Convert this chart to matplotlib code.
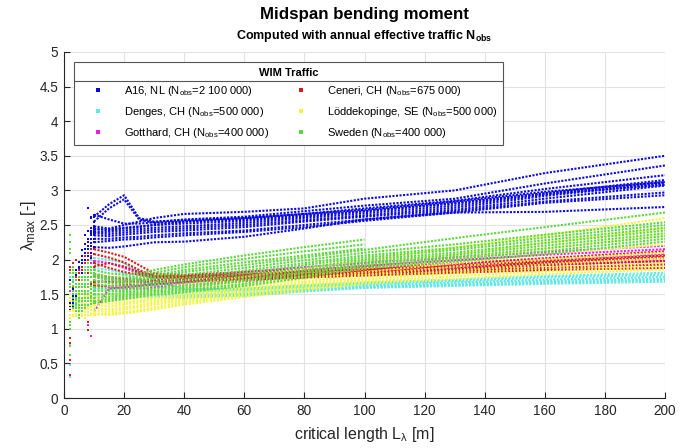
import matplotlib
matplotlib.use("Agg")
import matplotlib.pyplot as plt
import numpy as np
from matplotlib.lines import Line2D

plt.rcParams["font.family"] = ["Liberation Sans", "DejaVu Sans"]
plt.rcParams["mathtext.fontset"] = "custom"
plt.rcParams["mathtext.rm"] = "Liberation Sans"
plt.rcParams["mathtext.it"] = "Liberation Sans:italic"
plt.rcParams["mathtext.bf"] = "Liberation Sans:bold"
plt.rcParams["mathtext.default"] = "regular"

nan = np.nan

# critical lengths [m] at which lambda_max is given
lengths = [2, 3, 4, 5, 6, 7, 8, 9, 10, 15, 20, 25, 30, 40, 60, 80, 100, 130, 160, 200]

a16 = [
    [1.70, 1.68, 1.85, 1.96, 2.14, 2.35, 2.74, 2.62, 2.48, 2.45, 2.50, 2.55, 2.60, 2.66, 2.69, 2.74, 2.88, 3.00, 3.25, 3.50],
    [1.55, 1.62, 1.78, 1.90, 2.05, 2.22, 2.42, 2.60, 2.65, 2.58, 2.52, 2.52, 2.54, 2.58, 2.62, 2.70, 2.78, 2.88, 3.10, 3.36],
    [1.60, 1.58, 1.75, 1.88, 2.00, 2.15, 2.30, 2.45, 2.45, 2.42, 2.45, 2.47, 2.50, 2.55, 2.60, 2.66, 2.74, 2.85, 3.02, 3.22],
    [1.50, 1.55, 1.70, 1.85, 1.95, 2.10, 2.25, 2.42, 2.43, 2.44, 2.46, 2.48, 2.50, 2.52, 2.56, 2.62, 2.70, 2.82, 2.96, 3.15],
    [1.45, 1.50, 1.65, 1.80, 1.90, 2.05, 2.20, 2.38, 2.40, 2.40, 2.42, 2.44, 2.46, 2.48, 2.53, 2.60, 2.67, 2.78, 2.94, 3.12],
    [1.40, 1.48, 1.60, 1.75, 1.85, 2.00, 2.15, 2.35, 2.38, 2.37, 2.39, 2.41, 2.43, 2.45, 2.50, 2.57, 2.64, 2.75, 2.92, 3.10],
    [1.38, 1.45, 1.55, 1.70, 1.80, 1.95, 2.10, 2.30, 2.35, 2.34, 2.36, 2.38, 2.40, 2.42, 2.47, 2.55, 2.62, 2.72, 2.88, 3.07],
    [1.35, 1.42, 1.50, 1.65, 1.75, 1.90, 2.05, 2.24, 2.30, 2.30, 2.32, 2.33, 2.35, 2.38, 2.42, 2.50, 2.58, 2.70, 2.84, 2.97],
    [1.32, 1.40, 1.48, 1.60, 1.70, 1.85, 2.00, 2.20, 2.25, 2.27, 2.29, 2.30, 2.32, 2.35, 2.40, 2.47, 2.56, 2.68, 2.82, 2.93],
    [1.30, 1.38, 1.45, 1.55, 1.65, 1.80, 1.95, 2.10, 2.18, 2.17, 2.19, 2.22, 2.25, 2.26, 2.33, 2.45, 2.58, 2.68, 2.69, 2.76],
    [1.28, 1.35, 1.42, 1.50, 1.60, 1.75, 1.90, 2.05, 2.62, 2.80, 2.93, 2.60, 2.55, 2.57, 2.60, 2.66, 2.72, 2.84, 2.98, 3.12],
    [1.25, 1.32, 1.40, 1.48, 1.55, 1.70, 1.85, 2.02, 2.55, 2.74, 2.87, 2.58, 2.53, 2.55, 2.58, 2.64, 2.70, 2.81, 2.95, 3.08],
]

denges = [
    [1.80, 1.70, 1.75, 1.80, 1.85, 1.90, 1.95, 2.00, 2.02, 2.00, 1.95, 1.82, 1.70, 1.57, 1.58, 1.63, 1.67, 1.71, 1.76, 1.81],
    [1.75, 1.55, 1.60, 1.65, 1.70, 1.75, 1.80, 1.85, 1.88, 1.85, 1.80, 1.72, 1.62, 1.54, 1.56, 1.61, 1.65, 1.69, 1.74, 1.78],
    [1.45, 1.45, 1.50, 1.55, 1.60, 1.62, 1.65, 1.68, 1.70, 1.68, 1.65, 1.60, 1.55, 1.51, 1.54, 1.59, 1.63, 1.67, 1.71, 1.75],
    [0.78, 1.40, 1.45, 1.48, 1.50, 1.52, 1.55, 1.57, 1.58, 1.56, 1.54, 1.52, 1.50, 1.48, 1.51, 1.56, 1.61, 1.65, 1.69, 1.72],
    [0.48, 1.35, 1.40, 1.42, 1.44, 1.46, 1.48, 1.50, 1.50, 1.48, 1.47, 1.46, 1.46, 1.45, 1.48, 1.54, 1.59, 1.62, 1.65, 1.68],
    [0.30, 1.28, 1.32, 1.38, 1.42, 1.44, 1.46, 1.48, 1.49, 1.50, 1.50, 1.49, 1.48, 1.47, 1.50, 1.55, 1.60, 1.63, 1.67, 1.70],
]

gotthard = [
    [1.55, 1.40, 1.50, 1.60, 1.70, 1.80, 1.90, 1.95, 1.98, 1.95, 1.88, 1.80, 1.75, 1.76, 1.82, 1.89, 1.95, 2.03, 2.11, 2.20],
    [1.50, 1.30, 1.35, 1.45, 1.55, 1.60, 1.70, 0.89, 1.75, 1.72, 1.70, 1.68, 1.68, 1.70, 1.76, 1.84, 1.91, 1.99, 2.07, 2.15],
    [1.45, 1.20, 1.25, 1.30, 1.35, 1.40, 1.05, 1.45, 1.25, 1.58, 1.60, 1.62, 1.64, 1.67, 1.73, 1.80, 1.86, 1.93, 2.00, 2.08],
    [1.35, 1.25, 1.30, 1.40, 1.50, 1.55, 1.60, 1.62, 1.65, 1.60, 1.58, 1.58, 1.60, 1.63, 1.69, 1.76, 1.82, 1.88, 1.93, 1.98],
]

ceneri = [
    [1.90, 1.95, 2.00, 1.85, 1.90, 2.05, 2.10, 2.15, 2.15, 2.10, 2.04, 1.92, 1.80, 1.78, 1.82, 1.86, 1.89, 1.94, 2.02, 2.12],
    [1.85, 1.60, 1.75, 1.80, 1.85, 1.95, 2.00, 2.05, 2.08, 2.03, 1.96, 1.85, 1.76, 1.76, 1.79, 1.83, 1.86, 1.91, 1.98, 2.06],
    [1.60, 1.50, 1.60, 1.70, 1.75, 1.80, 1.85, 1.90, 1.95, 1.88, 1.82, 1.78, 1.74, 1.74, 1.77, 1.81, 1.84, 1.89, 1.95, 2.02],
    [0.87, 1.40, 1.50, 1.60, 1.65, 1.70, 1.10, 1.75, 1.78, 1.75, 1.72, 1.71, 1.71, 1.72, 1.75, 1.79, 1.82, 1.86, 1.92, 1.98],
    [0.80, 1.30, 1.40, 1.50, 1.55, 1.60, 0.98, 1.65, 1.68, 1.68, 1.68, 1.68, 1.69, 1.70, 1.73, 1.77, 1.80, 1.84, 1.88, 1.93],
    [0.55, 1.25, 1.30, 1.45, 1.50, 1.55, 1.60, 1.62, 1.62, 1.62, 1.63, 1.64, 1.66, 1.68, 1.71, 1.74, 1.77, 1.81, 1.85, 1.88],
    [0.33, 1.45, 1.55, 1.65, 1.70, 1.75, 1.80, 1.85, 1.90, 1.95, 1.90, 1.82, 1.77, 1.75, 1.78, 1.82, 1.85, 1.90, 1.96, 2.04],
]

loddekopinge = [
    [1.40, 1.50, 1.55, 1.52, 1.50, 1.48, 1.52, 1.50, 1.50, 1.48, 1.50, 1.53, 1.57, 1.63, 1.75, 1.87, 1.99, 2.17, 2.35, 2.60],
    [1.35, 1.45, 1.50, 1.48, 1.45, 1.44, 1.48, 1.46, 1.45, 1.43, 1.45, 1.48, 1.52, 1.58, 1.70, 1.81, 1.92, 2.07, 2.24, 2.45],
    [1.45, 1.40, 1.45, 1.44, 1.42, 1.40, 1.44, 1.43, 1.42, 1.40, 1.42, 1.45, 1.48, 1.54, 1.65, 1.76, 1.87, 2.01, 2.16, 2.35],
    [1.30, 1.35, 1.40, 1.40, 1.38, 1.36, 1.40, 1.39, 1.38, 1.36, 1.38, 1.41, 1.44, 1.50, 1.61, 1.72, 1.82, 1.95, 2.08, 2.22],
    [1.25, 1.30, 1.35, 1.36, 1.34, 1.33, 1.36, 1.36, 1.35, 1.32, 1.35, 1.38, 1.41, 1.47, 1.58, 1.68, 1.78, 1.90, 2.00, 2.10],
    [1.20, 1.28, 1.30, 1.32, 1.30, 1.28, 1.32, 1.31, 1.30, 1.28, 1.31, 1.34, 1.38, 1.44, 1.55, 1.65, 1.74, 1.84, 1.93, 2.02],
    [1.15, 1.25, 1.26, 1.28, 1.26, 1.24, 1.28, 1.27, 1.25, 1.25, 1.28, 1.31, 1.35, 1.41, 1.52, 1.62, 1.71, 1.80, 1.88, 1.95],
    [1.10, 1.20, 1.22, 1.24, 1.22, 1.20, 1.24, 1.22, 1.20, 1.22, 1.24, 1.27, 1.31, 1.38, 1.49, 1.59, 1.68, 1.76, 1.83, 1.90],
    [1.50, 1.18, 1.18, 1.20, 1.18, 1.16, 1.20, 1.20, 1.22, 1.20, 1.22, 1.25, 1.28, 1.35, 1.46, 1.56, 1.65, 1.72, 1.79, 1.86],
]

sweden = [
    [2.35, 1.90, 1.80, 1.75, 1.70, 1.85, 1.95, 1.90, 1.85, 1.80, 1.78, 1.80, 1.85, 1.93, 2.06, 2.18, 2.29, nan, nan, nan],
    [2.25, 1.85, 1.70, 1.65, 1.75, 1.80, 1.90, 1.85, 1.80, 1.75, 1.74, 1.76, 1.81, 1.89, 2.01, 2.12, 2.22, nan, nan, nan],
    [2.15, 1.80, 1.65, 1.60, 1.70, 1.75, 1.85, 1.80, 1.78, 1.72, 1.70, 1.73, 1.77, 1.85, 1.96, 2.06, 2.16, nan, nan, nan],
    [2.10, 1.75, 1.60, 1.55, 1.65, 1.70, 1.75, 1.75, 1.75, 1.70, 1.68, 1.71, 1.75, 1.82, 1.92, 2.03, 2.14, 2.31, 2.47, 2.68],
    [1.80, 1.68, 1.55, 1.50, 1.60, 1.65, 1.70, 1.68, 1.70, 1.66, 1.65, 1.68, 1.72, 1.78, 1.88, 1.99, 2.10, 2.22, 2.36, 2.54],
    [1.65, 1.62, 1.50, 1.45, 1.55, 1.60, 1.65, 1.62, 1.65, 1.62, 1.61, 1.64, 1.68, 1.74, 1.84, 1.95, 2.06, 2.17, 2.32, 2.50],
    [1.10, 1.55, 1.45, 1.40, 1.50, 1.55, 1.60, 1.58, 1.60, 1.58, 1.58, 1.61, 1.65, 1.70, 1.80, 1.92, 2.03, 2.14, 2.28, 2.46],
    [1.05, 1.50, 1.42, 1.35, 1.45, 1.50, 1.55, 1.52, 1.55, 1.54, 1.55, 1.58, 1.62, 1.66, 1.76, 1.88, 2.00, 2.10, 2.24, 2.42],
    [0.75, 1.45, 1.38, 1.30, 1.40, 1.45, 1.50, 1.48, 1.50, 1.50, 1.52, 1.55, 1.58, 1.62, 1.72, 1.84, 1.97, 2.07, 2.20, 2.38],
    [0.62, 1.40, 1.35, 1.25, 1.35, 1.40, 1.45, 1.44, 1.45, 1.46, 1.49, 1.52, 1.55, 1.59, 1.69, 1.81, 1.94, 2.04, 2.16, 2.34],
    [1.00, 1.35, 1.30, 1.20, 1.30, 1.35, 1.40, 1.40, 1.40, 1.43, 1.46, 1.49, 1.52, 1.56, 1.65, 1.78, 1.91, 2.01, 2.12, 2.30],
    [1.60, 1.30, 1.25, 1.15, 1.25, 1.30, 1.35, 1.36, 1.37, 1.40, 1.43, 1.46, 1.49, 1.53, 1.62, 1.74, 1.88, 1.97, 2.08, 2.26],
]

sites = [
    ("A16, NL (N$_{obs}$=2 100 000)", a16, "#0a0ae0"),
    ("Denges, CH (N$_{obs}$=500 000)", denges, "#5ee8e8"),
    ("Gotthard, CH (N$_{obs}$=400 000)", gotthard, "#e81ee8"),
    ("Ceneri, CH (N$_{obs}$=675 000)", ceneri, "#d81c1c"),
    ("Löddekopinge, SE (N$_{obs}$=500 000)", loddekopinge, "#f5f53c"),
    ("Sweden (N$_{obs}$=400 000)", sweden, "#5cd83a"),
]

L = np.array(lengths, dtype=float)
short = L <= 10
long_ = L >= 10

fig = plt.figure(figsize=(6.92, 4.48), dpi=100)
ax = fig.add_axes([64 / 692, 1 - 398 / 448, 601 / 692, 346 / 448])

handles = []
for label, curves, color in sites:
    for curve in curves:
        y = np.array(curve, dtype=float)
        ax.plot(L[short], y[short], ls="none", marker="s", ms=2.1, mew=0, color=color)
        ax.plot(L[long_], y[long_], ls=(0, (1, 0.7)), lw=1.5, color=color)
    handles.append(Line2D([], [], ls="none", marker="s", ms=2.4, mew=0, color=color, label=label))

ax.set_xlim(0, 200)
ax.set_ylim(0, 5)
ax.set_xticks(np.arange(0, 201, 20))
ax.set_yticks(np.arange(0, 5.01, 0.5))
ax.set_yticklabels(["0", "0.5", "1", "1.5", "2", "2.5", "3", "3.5", "4", "4.5", "5"])
ax.tick_params(direction="in", length=4, width=0.8, colors="#262626", labelsize=9.8, pad=4)
ax.grid(True, color="#e2e2e2", lw=0.8)
ax.set_axisbelow(True)
for side in ("top", "right"):
    ax.spines[side].set_visible(False)
for side in ("left", "bottom"):
    ax.spines[side].set_color("#262626")
    ax.spines[side].set_linewidth(0.8)

ax.set_xlabel(r"critical length L$_{\lambda}$ [m]", fontsize=11.5, color="#262626", labelpad=5)
ax.set_ylabel(r"$\lambda_{max}$ [-]", fontsize=12, color="#262626", labelpad=1)

fig.text(364.5 / 692, 1 - 14 / 448, "Midspan bending moment", ha="center", va="center",
         fontsize=12.2, fontweight="bold")
fig.text(364.5 / 692, 1 - 36 / 448, r"Computed with annual effective traffic N$_{\mathbf{obs}}$",
         ha="center", va="center", fontsize=9, fontweight="bold")

leg = ax.legend(handles=handles, ncol=2, loc="upper left",
                bbox_to_anchor=(10 / 601, 1 - 10 / 346), title="WIM Traffic",
                title_fontproperties={"weight": "bold", "size": 8}, fontsize=8,
                fancybox=False, framealpha=1, edgecolor="#555555", borderaxespad=0,
                handlelength=3.4, handletextpad=0.6, columnspacing=1.2,
                labelspacing=0.6, borderpad=0.5)
leg.get_frame().set_linewidth(0.8)

# rule under the legend title
fig.canvas.draw()
r = fig.canvas.get_renderer()
fb = leg.get_frame().get_window_extent(r)
tb = leg.get_title().get_window_extent(r)
yline = tb.y0 - 3
fig.add_artist(Line2D([fb.x0 / fig.bbox.width, fb.x1 / fig.bbox.width],
                      [yline / fig.bbox.height, yline / fig.bbox.height],
                      transform=fig.transFigure, color="#555555", lw=0.8))

fig.savefig("out.png", dpi=100)
